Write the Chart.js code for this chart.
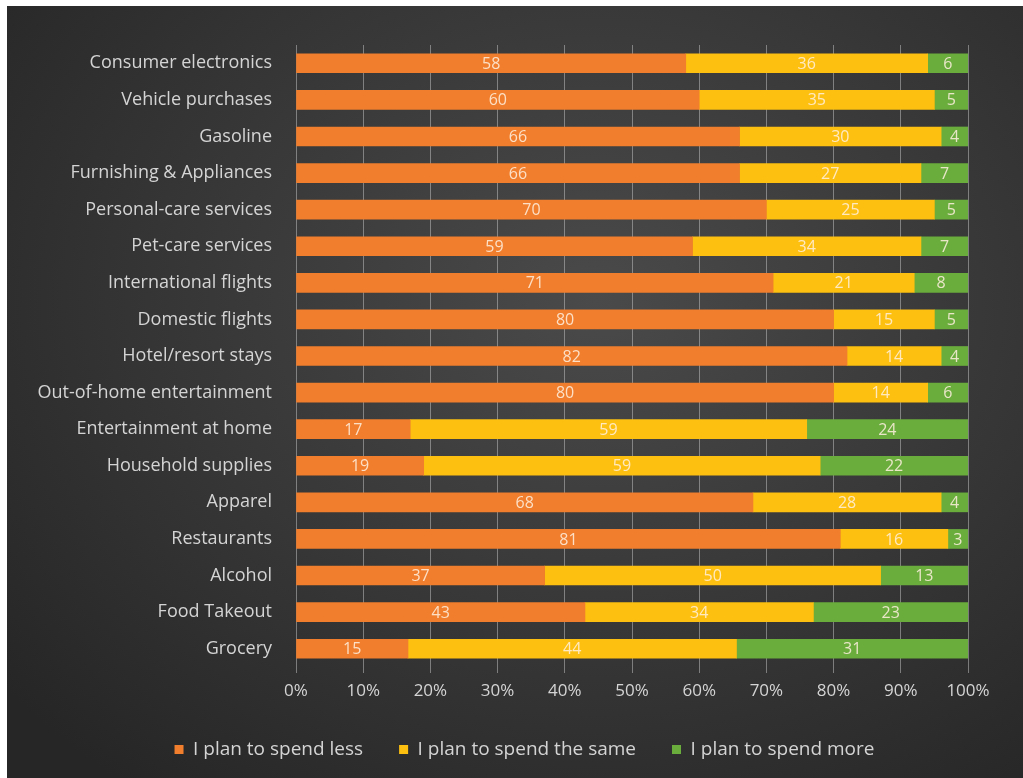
<!DOCTYPE html>
<html>
<head>
<meta charset="utf-8">
<script src="https://cdn.jsdelivr.net/npm/chart.js@4"></script>
<style>
  html, body { margin: 0; padding: 0; background: #fff; }
  #wrap {
    position: absolute; left: 7px; top: 6px; width: 1016px; height: 772px;
    background: radial-gradient(ellipse 75% 80% at 58% 38%, #4a4a4a 0%, #3a3a3a 45%, #262626 100%);
  }
</style>
</head>
<body>
<div id="wrap"><canvas id="myChart" width="1016" height="772"></canvas></div>
<script>
const categories = [
    'Consumer electronics', 'Vehicle purchases', 'Gasoline', 'Furnishing & Appliances',
    'Personal-care services', 'Pet-care services', 'International flights', 'Domestic flights',
    'Hotel/resort stays', 'Out-of-home entertainment', 'Entertainment at home', 'Household supplies',
    'Apparel', 'Restaurants', 'Alcohol', 'Food Takeout', 'Grocery'
];
const spendLess = [58, 60, 66, 66, 70, 59, 71, 80, 82, 80, 17, 19, 68, 81, 37, 43, 15];
const spendSame = [36, 35, 30, 27, 25, 34, 21, 15, 14, 14, 59, 59, 28, 16, 50, 34, 44];
const spendMore = [6, 5, 4, 7, 5, 7, 8, 5, 4, 6, 24, 22, 4, 3, 13, 23, 31];
const seriesNames = ['I plan to spend less', 'I plan to spend the same', 'I plan to spend more'];
const seriesColors = ['#f07e2c', '#fdc010', '#6aad3d'];

// 100% stacked: turn each row into shares
const totals = categories.map((c, i) => spendLess[i] + spendSame[i] + spendMore[i]);
function share(arr) {
    return arr.map((v, i) => v / totals[i] * 100);
}
const raw = [spendLess, spendSame, spendMore];

const textColor = '#d4d4d4';
const fontFamily = '"Open Sans", "Noto Sans", sans-serif';

// draws the value in the middle of each segment
const segmentLabels = {
    id: 'segmentLabels',
    afterDatasetsDraw(chart) {
        const ctx = chart.ctx;
        ctx.save();
        ctx.font = '16px ' + fontFamily;
        ctx.fillStyle = 'rgba(255,240,225,0.85)';
        ctx.textAlign = 'center';
        ctx.textBaseline = 'middle';
        chart.data.datasets.forEach((ds, d) => {
            chart.getDatasetMeta(d).data.forEach((bar, i) => {
                const mid = (bar.x + bar.base) / 2;
                ctx.fillText(String(raw[d][i]), mid, bar.y + 1);
            });
        });
        ctx.restore();
    }
};

// legend sits a bit right of the plot centre in the original
const legendShift = {
    id: 'legendShift',
    afterLayout(chart) {
        chart.legend.left += 37;
        chart.legend.right += 37;
    }
};

const ctx = document.getElementById('myChart').getContext('2d');
const myChart = new Chart(ctx, {
    type: 'bar',
    data: {
        labels: categories,
        datasets: [0, 1, 2].map(k => ({
            label: seriesNames[k],
            data: share(raw[k]),
            backgroundColor: seriesColors[k],
            borderWidth: 0,
            barThickness: 19
        }))
    },
    plugins: [segmentLabels, legendShift],
    options: {
        indexAxis: 'y',
        responsive: false,
        animation: false,
        layout: { padding: { top: 39, right: 55, left: 0, bottom: 9 } },
        scales: {
            x: {
                stacked: true,
                min: 0,
                max: 100,
                ticks: {
                    stepSize: 10,
                    color: textColor,
                    font: { size: 17, family: fontFamily },
                    padding: 8,
                    callback: v => v + '%'
                },
                grid: { color: 'rgba(200,200,200,0.5)', drawTicks: true, tickLength: 6 },
                border: { display: false },
                afterFit(scale) { scale.height = 37; }
            },
            y: {
                stacked: true,
                ticks: {
                    color: textColor,
                    font: { size: 18, family: fontFamily },
                    padding: 16,
                    autoSkip: false
                },
                grid: { display: false },
                border: { display: false },
                afterFit(scale) { scale.width = 289; }
            }
        },
        plugins: {
            legend: {
                position: 'bottom',
                labels: {
                    color: textColor,
                    font: { size: 19, family: fontFamily },
                    boxWidth: 9,
                    boxHeight: 9,
                    padding: 36
                }
            },
            tooltip: { enabled: false }
        }
    }
});
</script>
</body>
</html>
